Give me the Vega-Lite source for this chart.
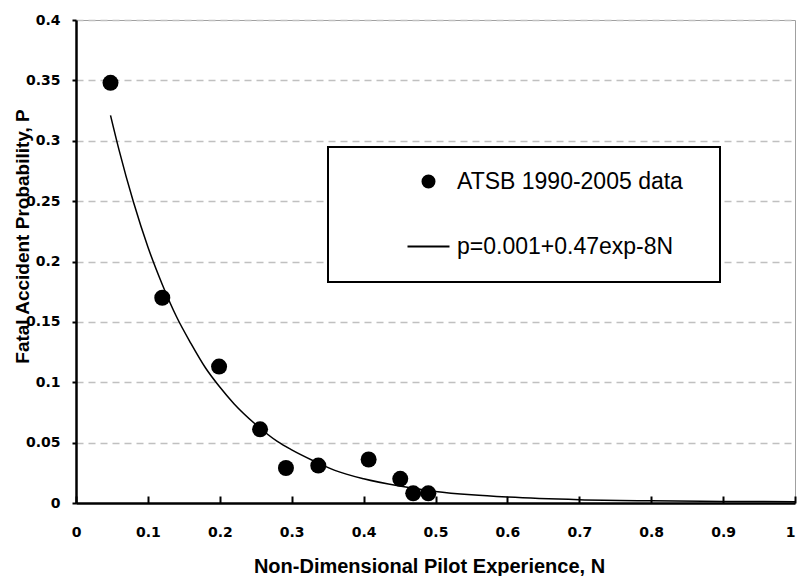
{
  "$schema": "https://vega.github.io/schema/vega-lite/v6.json",
  "width": 719,
  "height": 483,
  "autosize": {"type": "none"},
  "padding": {"left": 76, "top": 20, "right": 2, "bottom": 73},
  "background": "white",
  "datasets": {
    "points": [
      {"N": 0.048, "p": 0.348, "series": "ATSB 1990-2005 data"},
      {"N": 0.12, "p": 0.170, "series": "ATSB 1990-2005 data"},
      {"N": 0.199, "p": 0.113, "series": "ATSB 1990-2005 data"},
      {"N": 0.256, "p": 0.061, "series": "ATSB 1990-2005 data"},
      {"N": 0.292, "p": 0.029, "series": "ATSB 1990-2005 data"},
      {"N": 0.337, "p": 0.031, "series": "ATSB 1990-2005 data"},
      {"N": 0.407, "p": 0.036, "series": "ATSB 1990-2005 data"},
      {"N": 0.451, "p": 0.020, "series": "ATSB 1990-2005 data"},
      {"N": 0.469, "p": 0.008, "series": "ATSB 1990-2005 data"},
      {"N": 0.490, "p": 0.008, "series": "ATSB 1990-2005 data"}
    ],
    "curve": [
      {"N": 0.048, "p": 0.321, "series": "p=0.001+0.47exp-8N"},
      {"N": 0.06, "p": 0.292, "series": "p=0.001+0.47exp-8N"},
      {"N": 0.08, "p": 0.249, "series": "p=0.001+0.47exp-8N"},
      {"N": 0.10, "p": 0.212, "series": "p=0.001+0.47exp-8N"},
      {"N": 0.12, "p": 0.181, "series": "p=0.001+0.47exp-8N"},
      {"N": 0.14, "p": 0.154, "series": "p=0.001+0.47exp-8N"},
      {"N": 0.16, "p": 0.132, "series": "p=0.001+0.47exp-8N"},
      {"N": 0.18, "p": 0.112, "series": "p=0.001+0.47exp-8N"},
      {"N": 0.20, "p": 0.096, "series": "p=0.001+0.47exp-8N"},
      {"N": 0.22, "p": 0.082, "series": "p=0.001+0.47exp-8N"},
      {"N": 0.25, "p": 0.065, "series": "p=0.001+0.47exp-8N"},
      {"N": 0.28, "p": 0.051, "series": "p=0.001+0.47exp-8N"},
      {"N": 0.30, "p": 0.044, "series": "p=0.001+0.47exp-8N"},
      {"N": 0.33, "p": 0.035, "series": "p=0.001+0.47exp-8N"},
      {"N": 0.36, "p": 0.027, "series": "p=0.001+0.47exp-8N"},
      {"N": 0.40, "p": 0.020, "series": "p=0.001+0.47exp-8N"},
      {"N": 0.45, "p": 0.014, "series": "p=0.001+0.47exp-8N"},
      {"N": 0.50, "p": 0.0096, "series": "p=0.001+0.47exp-8N"},
      {"N": 0.55, "p": 0.0068, "series": "p=0.001+0.47exp-8N"},
      {"N": 0.60, "p": 0.0049, "series": "p=0.001+0.47exp-8N"},
      {"N": 0.70, "p": 0.0027, "series": "p=0.001+0.47exp-8N"},
      {"N": 0.80, "p": 0.0018, "series": "p=0.001+0.47exp-8N"},
      {"N": 0.90, "p": 0.0013, "series": "p=0.001+0.47exp-8N"},
      {"N": 1.00, "p": 0.0011, "series": "p=0.001+0.47exp-8N"}
    ]
  },
  "layer": [
    {
      "data": {"name": "curve"},
      "mark": {"type": "line", "strokeWidth": 1.5, "interpolate": "monotone"},
      "encoding": {
        "x": {
          "field": "N", "type": "quantitative",
          "scale": {"domain": [0, 1], "nice": false},
          "axis": {
            "values": [0, 0.1, 0.2, 0.3, 0.4, 0.5, 0.6, 0.7, 0.8, 0.9, 1],
            "format": "~g", "grid": false, "domain": false, "offset": -7,
            "ticks": true, "tickSize": 7, "tickColor": "black", "tickWidth": 2,
            "labelPadding": 22, "labelFlush": false,
            "labelAlign": {"condition": {"test": "datum.value === 1", "value": "right"}, "value": "center"},
            "title": "Non-Dimensional Pilot Experience, N", "titleFontSize": 20,
            "titleX": 353, "titleY": 76, "titleBaseline": "alphabetic", "titleAlign": "center"
          }
        },
        "y": {
          "field": "p", "type": "quantitative",
          "scale": {"domain": [0, 0.4], "nice": false},
          "axis": {
            "values": [0, 0.05, 0.1, 0.15, 0.2, 0.25, 0.3, 0.35, 0.4],
            "format": "~g", "grid": true,
            "gridColor": {"condition": {"test": "datum.value === 0", "value": "black"}, "value": "#c0c0c0"},
            "gridDash": {"condition": {"test": "datum.value === 0", "value": []}, "value": [7, 5]},
            "gridWidth": {"condition": {"test": "datum.value === 0", "value": 2.5}, "value": 1.5},
            "tickSize": 4, "labelPadding": 12, "labelFlush": false,
            "title": "Fatal Accident Probability, P", "titleFontSize": 19, "titleAngle": 270,
            "titleX": -48, "titleY": 216, "titleBaseline": "alphabetic", "titleAlign": "center"
          }
        },
        "color": {
          "field": "series", "type": "nominal",
          "scale": {"domain": ["ATSB 1990-2005 data", "p=0.001+0.47exp-8N"], "range": ["black", "black"]},
          "legend": {"title": null, "orient": "none", "legendX": 252, "legendY": 127}
        }
      }
    },
    {
      "data": {"name": "points"},
      "mark": {"type": "point", "filled": true, "size": 256, "opacity": 1},
      "encoding": {
        "x": {"field": "N", "type": "quantitative"},
        "y": {"field": "p", "type": "quantitative"},
        "color": {
          "field": "series", "type": "nominal",
          "scale": {"domain": ["ATSB 1990-2005 data", "p=0.001+0.47exp-8N"], "range": ["black", "black"]},
          "legend": {"title": null, "orient": "none", "legendX": 252, "legendY": 127}
        },
        "shape": {
          "field": "series", "type": "nominal",
          "scale": {"domain": ["ATSB 1990-2005 data", "p=0.001+0.47exp-8N"], "range": ["circle", "M44,0M-3.5,0H3.5"]},
          "legend": {"title": null, "orient": "none", "legendX": 252, "legendY": 127}
        }
      }
    }
  ],
  "config": {
    "view": {"stroke": "#a0a0a0", "strokeWidth": 1},
    "axis": {
      "labelFont": "DejaVu Sans", "labelFontWeight": "bold", "labelFontSize": 14, "labelColor": "black",
      "titleFont": "Liberation Sans", "titleFontWeight": "bold", "titleColor": "black",
      "domainColor": "black", "domainWidth": 2.5, "tickColor": "black", "tickWidth": 2
    },
    "legend": {
      "padding": 23, "rowPadding": 41,
      "labelFont": "Liberation Sans", "labelFontSize": 23, "labelColor": "black", "labelOffset": 17, "labelLimit": 0,
      "symbolOffset": 66,
      "symbolSize": 144, "symbolStrokeWidth": 2, "symbolStrokeColor": "black", "symbolFillColor": "black",
      "strokeColor": "black", "strokeWidth": 2, "fillColor": "white"
    }
  }
}
